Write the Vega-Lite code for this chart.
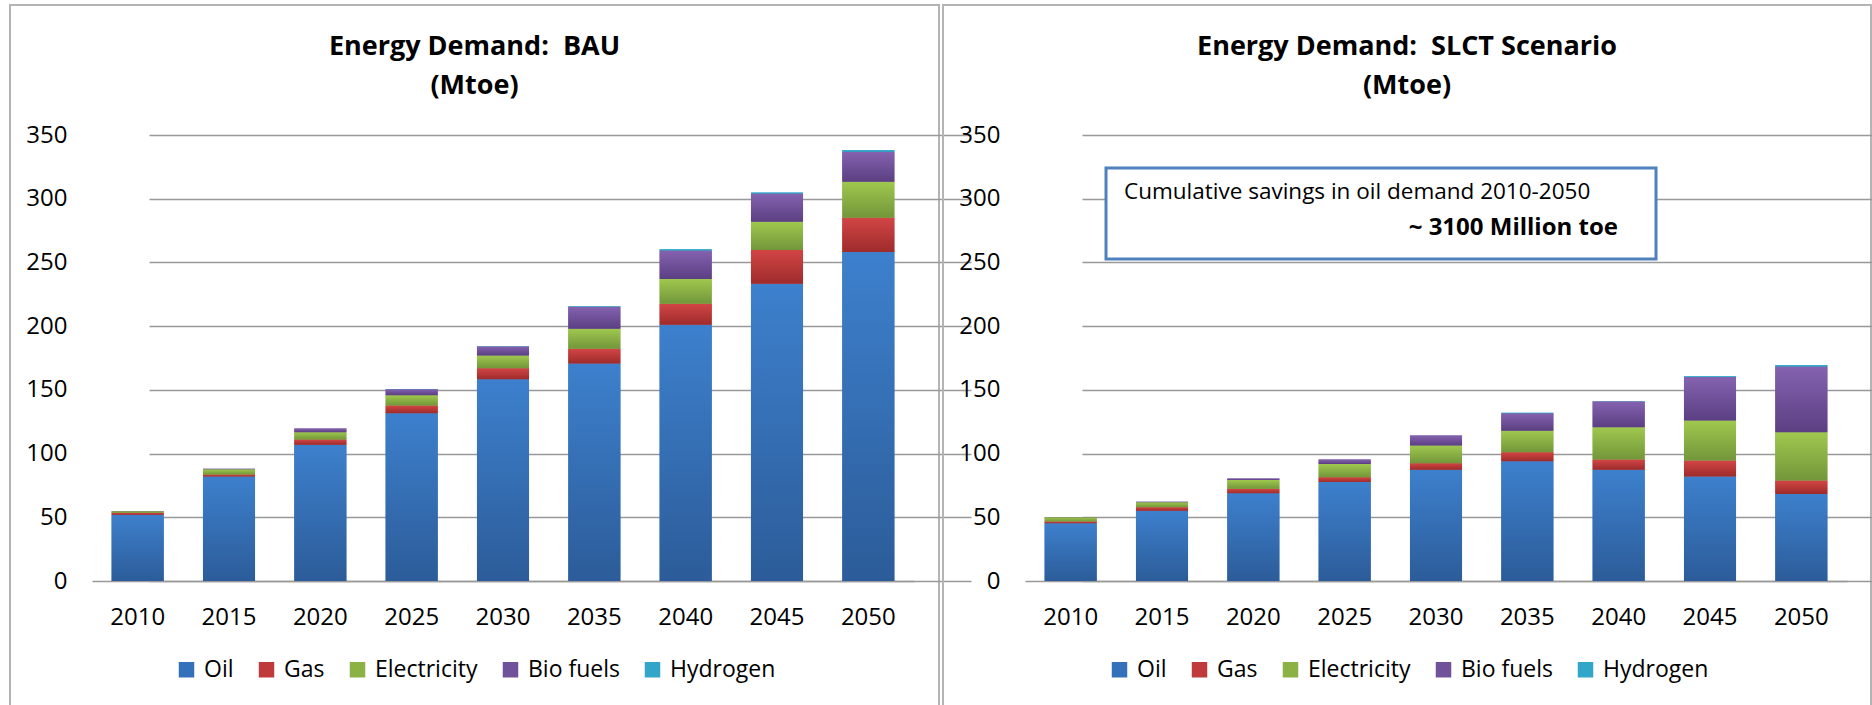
{
  "$schema": "https://vega.github.io/schema/vega-lite/v6.json",
  "padding": {"left": 9, "top": 4, "right": 0, "bottom": 0},
  "autosize": {"type": "pad"},
  "spacing": 4,
  "bounds": "flush",
  "background": "white",
  "datasets": {
    "energy": [
      {"scenario": "BAU", "year": "2010", "fuel": "Oil", "i": 1, "value": 52},
      {"scenario": "BAU", "year": "2010", "fuel": "Gas", "i": 2, "value": 1.5},
      {"scenario": "BAU", "year": "2010", "fuel": "Electricity", "i": 3, "value": 1.3},
      {"scenario": "BAU", "year": "2010", "fuel": "Bio fuels", "i": 4, "value": 0.2},
      {"scenario": "BAU", "year": "2010", "fuel": "Hydrogen", "i": 5, "value": 0},
      {"scenario": "BAU", "year": "2015", "fuel": "Oil", "i": 1, "value": 82},
      {"scenario": "BAU", "year": "2015", "fuel": "Gas", "i": 2, "value": 1.5},
      {"scenario": "BAU", "year": "2015", "fuel": "Electricity", "i": 3, "value": 4.2},
      {"scenario": "BAU", "year": "2015", "fuel": "Bio fuels", "i": 4, "value": 0.3},
      {"scenario": "BAU", "year": "2015", "fuel": "Hydrogen", "i": 5, "value": 0},
      {"scenario": "BAU", "year": "2020", "fuel": "Oil", "i": 1, "value": 107},
      {"scenario": "BAU", "year": "2020", "fuel": "Gas", "i": 2, "value": 4},
      {"scenario": "BAU", "year": "2020", "fuel": "Electricity", "i": 3, "value": 5.8},
      {"scenario": "BAU", "year": "2020", "fuel": "Bio fuels", "i": 4, "value": 2.8},
      {"scenario": "BAU", "year": "2020", "fuel": "Hydrogen", "i": 5, "value": 0.1},
      {"scenario": "BAU", "year": "2025", "fuel": "Oil", "i": 1, "value": 131.7},
      {"scenario": "BAU", "year": "2025", "fuel": "Gas", "i": 2, "value": 6},
      {"scenario": "BAU", "year": "2025", "fuel": "Electricity", "i": 3, "value": 8.1},
      {"scenario": "BAU", "year": "2025", "fuel": "Bio fuels", "i": 4, "value": 4.7},
      {"scenario": "BAU", "year": "2025", "fuel": "Hydrogen", "i": 5, "value": 0.1},
      {"scenario": "BAU", "year": "2030", "fuel": "Oil", "i": 1, "value": 158.4},
      {"scenario": "BAU", "year": "2030", "fuel": "Gas", "i": 2, "value": 8.6},
      {"scenario": "BAU", "year": "2030", "fuel": "Electricity", "i": 3, "value": 10},
      {"scenario": "BAU", "year": "2030", "fuel": "Bio fuels", "i": 4, "value": 7},
      {"scenario": "BAU", "year": "2030", "fuel": "Hydrogen", "i": 5, "value": 0.2},
      {"scenario": "BAU", "year": "2035", "fuel": "Oil", "i": 1, "value": 170.7},
      {"scenario": "BAU", "year": "2035", "fuel": "Gas", "i": 2, "value": 11.5},
      {"scenario": "BAU", "year": "2035", "fuel": "Electricity", "i": 3, "value": 15.7},
      {"scenario": "BAU", "year": "2035", "fuel": "Bio fuels", "i": 4, "value": 17.3},
      {"scenario": "BAU", "year": "2035", "fuel": "Hydrogen", "i": 5, "value": 0.5},
      {"scenario": "BAU", "year": "2040", "fuel": "Oil", "i": 1, "value": 201},
      {"scenario": "BAU", "year": "2040", "fuel": "Gas", "i": 2, "value": 16.5},
      {"scenario": "BAU", "year": "2040", "fuel": "Electricity", "i": 3, "value": 19.4},
      {"scenario": "BAU", "year": "2040", "fuel": "Bio fuels", "i": 4, "value": 22.5},
      {"scenario": "BAU", "year": "2040", "fuel": "Hydrogen", "i": 5, "value": 1},
      {"scenario": "BAU", "year": "2045", "fuel": "Oil", "i": 1, "value": 233.2},
      {"scenario": "BAU", "year": "2045", "fuel": "Gas", "i": 2, "value": 26.5},
      {"scenario": "BAU", "year": "2045", "fuel": "Electricity", "i": 3, "value": 22.3},
      {"scenario": "BAU", "year": "2045", "fuel": "Bio fuels", "i": 4, "value": 22},
      {"scenario": "BAU", "year": "2045", "fuel": "Hydrogen", "i": 5, "value": 0.8},
      {"scenario": "BAU", "year": "2050", "fuel": "Oil", "i": 1, "value": 258.2},
      {"scenario": "BAU", "year": "2050", "fuel": "Gas", "i": 2, "value": 26.8},
      {"scenario": "BAU", "year": "2050", "fuel": "Electricity", "i": 3, "value": 28.4},
      {"scenario": "BAU", "year": "2050", "fuel": "Bio fuels", "i": 4, "value": 23.5},
      {"scenario": "BAU", "year": "2050", "fuel": "Hydrogen", "i": 5, "value": 1.3},
      {"scenario": "SLCT", "year": "2010", "fuel": "Oil", "i": 1, "value": 45.3},
      {"scenario": "SLCT", "year": "2010", "fuel": "Gas", "i": 2, "value": 1.3},
      {"scenario": "SLCT", "year": "2010", "fuel": "Electricity", "i": 3, "value": 3.4},
      {"scenario": "SLCT", "year": "2010", "fuel": "Bio fuels", "i": 4, "value": 0.2},
      {"scenario": "SLCT", "year": "2010", "fuel": "Hydrogen", "i": 5, "value": 0},
      {"scenario": "SLCT", "year": "2015", "fuel": "Oil", "i": 1, "value": 55.2},
      {"scenario": "SLCT", "year": "2015", "fuel": "Gas", "i": 2, "value": 2.7},
      {"scenario": "SLCT", "year": "2015", "fuel": "Electricity", "i": 3, "value": 3.9},
      {"scenario": "SLCT", "year": "2015", "fuel": "Bio fuels", "i": 4, "value": 0.3},
      {"scenario": "SLCT", "year": "2015", "fuel": "Hydrogen", "i": 5, "value": 0},
      {"scenario": "SLCT", "year": "2020", "fuel": "Oil", "i": 1, "value": 68.8},
      {"scenario": "SLCT", "year": "2020", "fuel": "Gas", "i": 2, "value": 3.5},
      {"scenario": "SLCT", "year": "2020", "fuel": "Electricity", "i": 3, "value": 7},
      {"scenario": "SLCT", "year": "2020", "fuel": "Bio fuels", "i": 4, "value": 1.1},
      {"scenario": "SLCT", "year": "2020", "fuel": "Hydrogen", "i": 5, "value": 0},
      {"scenario": "SLCT", "year": "2025", "fuel": "Oil", "i": 1, "value": 77.7},
      {"scenario": "SLCT", "year": "2025", "fuel": "Gas", "i": 2, "value": 3.7},
      {"scenario": "SLCT", "year": "2025", "fuel": "Electricity", "i": 3, "value": 10.5},
      {"scenario": "SLCT", "year": "2025", "fuel": "Bio fuels", "i": 4, "value": 3.4},
      {"scenario": "SLCT", "year": "2025", "fuel": "Hydrogen", "i": 5, "value": 0},
      {"scenario": "SLCT", "year": "2030", "fuel": "Oil", "i": 1, "value": 87.4},
      {"scenario": "SLCT", "year": "2030", "fuel": "Gas", "i": 2, "value": 5},
      {"scenario": "SLCT", "year": "2030", "fuel": "Electricity", "i": 3, "value": 13.9},
      {"scenario": "SLCT", "year": "2030", "fuel": "Bio fuels", "i": 4, "value": 7.8},
      {"scenario": "SLCT", "year": "2030", "fuel": "Hydrogen", "i": 5, "value": 0.1},
      {"scenario": "SLCT", "year": "2035", "fuel": "Oil", "i": 1, "value": 94},
      {"scenario": "SLCT", "year": "2035", "fuel": "Gas", "i": 2, "value": 7},
      {"scenario": "SLCT", "year": "2035", "fuel": "Electricity", "i": 3, "value": 17},
      {"scenario": "SLCT", "year": "2035", "fuel": "Bio fuels", "i": 4, "value": 13.7},
      {"scenario": "SLCT", "year": "2035", "fuel": "Hydrogen", "i": 5, "value": 0.3},
      {"scenario": "SLCT", "year": "2040", "fuel": "Oil", "i": 1, "value": 87.4},
      {"scenario": "SLCT", "year": "2040", "fuel": "Gas", "i": 2, "value": 7.9},
      {"scenario": "SLCT", "year": "2040", "fuel": "Electricity", "i": 3, "value": 25.4},
      {"scenario": "SLCT", "year": "2040", "fuel": "Bio fuels", "i": 4, "value": 20.1},
      {"scenario": "SLCT", "year": "2040", "fuel": "Hydrogen", "i": 5, "value": 0.3},
      {"scenario": "SLCT", "year": "2045", "fuel": "Oil", "i": 1, "value": 82},
      {"scenario": "SLCT", "year": "2045", "fuel": "Gas", "i": 2, "value": 12.5},
      {"scenario": "SLCT", "year": "2045", "fuel": "Electricity", "i": 3, "value": 31.5},
      {"scenario": "SLCT", "year": "2045", "fuel": "Bio fuels", "i": 4, "value": 34},
      {"scenario": "SLCT", "year": "2045", "fuel": "Hydrogen", "i": 5, "value": 0.7},
      {"scenario": "SLCT", "year": "2050", "fuel": "Oil", "i": 1, "value": 68.3},
      {"scenario": "SLCT", "year": "2050", "fuel": "Gas", "i": 2, "value": 10.5},
      {"scenario": "SLCT", "year": "2050", "fuel": "Electricity", "i": 3, "value": 38},
      {"scenario": "SLCT", "year": "2050", "fuel": "Bio fuels", "i": 4, "value": 51.5},
      {"scenario": "SLCT", "year": "2050", "fuel": "Hydrogen", "i": 5, "value": 1.3}
    ]
  },
  "hconcat": [
    {
      "width": 929,
      "height": 701,
      "title": {"text": ["Energy Demand:\u00a0 BAU", "(Mtoe)"]},
      "data": {"name": "energy"},
      "transform": [{"filter": "datum.scenario === 'BAU'"}],
      "encoding": {
        "x": {"field": "year", "type": "ordinal", "title": null,
              "scale": {"range": [82, 904], "paddingInner": 0.43, "paddingOuter": 0.215}},
        "y": {"field": "value", "type": "quantitative", "stack": "zero", "title": null,
              "scale": {"domain": [0, 350], "range": [576, 130], "nice": false, "zero": true},
              "axis": {"values": [0, 50, 100, 150, 200, 250, 300, 350]}},
        "order": {"field": "i", "type": "quantitative"}
      },
      "layer": [
        {
          "mark": {"type": "bar"},
          "encoding": {
            "color": {"field": "fuel", "type": "nominal",
                      "scale": {"domain": ["Oil", "Gas", "Electricity", "Bio fuels", "Hydrogen"],
                                "range": ["#3570bb", "#bf3a3a", "#8cb246", "#70529b", "#31a6c9"]},
                      "legend": {"orient": "none", "legendX": 165, "legendY": 653, "direction": "horizontal"}}
          }
        },
        {
          "mark": {"type": "bar"},
          "encoding": {
            "detail": {"field": "fuel", "type": "nominal"},
            "fill": {
              "condition": [
                {"test": "datum.fuel === 'Oil'", "value": {"gradient": "linear", "x1": 0, "y1": 0, "x2": 0, "y2": 1, "stops": [{"offset": 0, "color": "#3d80cd"}, {"offset": 1, "color": "#2c5c99"}]}},
                {"test": "datum.fuel === 'Gas'", "value": {"gradient": "linear", "x1": 0, "y1": 0, "x2": 0, "y2": 1, "stops": [{"offset": 0, "color": "#d24545"}, {"offset": 1, "color": "#9e2b2b"}]}},
                {"test": "datum.fuel === 'Electricity'", "value": {"gradient": "linear", "x1": 0, "y1": 0, "x2": 0, "y2": 1, "stops": [{"offset": 0, "color": "#9fc84e"}, {"offset": 1, "color": "#72963a"}]}},
                {"test": "datum.fuel === 'Bio fuels'", "value": {"gradient": "linear", "x1": 0, "y1": 0, "x2": 0, "y2": 1, "stops": [{"offset": 0, "color": "#8462b0"}, {"offset": 1, "color": "#5b3f82"}]}}
              ],
              "value": {"gradient": "linear", "x1": 0, "y1": 0, "x2": 0, "y2": 1, "stops": [{"offset": 0, "color": "#3cb4d6"}, {"offset": 1, "color": "#2596b8"}]}
            }
          }
        }
      ]
    },
    {
      "width": 928,
      "height": 701,
      "title": {"text": ["Energy Demand:\u00a0 SLCT Scenario", "(Mtoe)"]},
      "resolve": {"scale": {"x": "independent"}},
      "layer": [
        {
          "data": {"name": "energy"},
          "transform": [{"filter": "datum.scenario === 'SLCT'"}],
          "encoding": {
            "x": {"field": "year", "type": "ordinal", "title": null,
                  "scale": {"range": [82, 904], "paddingInner": 0.43, "paddingOuter": 0.215}},
            "y": {"field": "value", "type": "quantitative", "stack": "zero", "title": null,
                  "scale": {"domain": [0, 350], "range": [576, 130], "nice": false, "zero": true},
                  "axis": {"values": [0, 50, 100, 150, 200, 250, 300, 350]}},
            "order": {"field": "i", "type": "quantitative"}
          },
          "layer": [
            {
              "mark": {"type": "bar"},
              "encoding": {
                "color": {"field": "fuel", "type": "nominal",
                          "scale": {"domain": ["Oil", "Gas", "Electricity", "Bio fuels", "Hydrogen"],
                                    "range": ["#3570bb", "#bf3a3a", "#8cb246", "#70529b", "#31a6c9"]},
                          "legend": {"orient": "none", "legendX": 165, "legendY": 653, "direction": "horizontal"}}
              }
            },
            {
              "mark": {"type": "bar"},
              "encoding": {
                "detail": {"field": "fuel", "type": "nominal"},
                "fill": {
                  "condition": [
                    {"test": "datum.fuel === 'Oil'", "value": {"gradient": "linear", "x1": 0, "y1": 0, "x2": 0, "y2": 1, "stops": [{"offset": 0, "color": "#3d80cd"}, {"offset": 1, "color": "#2c5c99"}]}},
                    {"test": "datum.fuel === 'Gas'", "value": {"gradient": "linear", "x1": 0, "y1": 0, "x2": 0, "y2": 1, "stops": [{"offset": 0, "color": "#d24545"}, {"offset": 1, "color": "#9e2b2b"}]}},
                    {"test": "datum.fuel === 'Electricity'", "value": {"gradient": "linear", "x1": 0, "y1": 0, "x2": 0, "y2": 1, "stops": [{"offset": 0, "color": "#9fc84e"}, {"offset": 1, "color": "#72963a"}]}},
                    {"test": "datum.fuel === 'Bio fuels'", "value": {"gradient": "linear", "x1": 0, "y1": 0, "x2": 0, "y2": 1, "stops": [{"offset": 0, "color": "#8462b0"}, {"offset": 1, "color": "#5b3f82"}]}}
                  ],
                  "value": {"gradient": "linear", "x1": 0, "y1": 0, "x2": 0, "y2": 1, "stops": [{"offset": 0, "color": "#3cb4d6"}, {"offset": 1, "color": "#2596b8"}]}
                }
              }
            }
          ]
        },
        {
          "data": {"values": [{}]},
          "mark": {"type": "rect", "fill": "white", "stroke": "#4f81bd", "strokeWidth": 3},
          "encoding": {
            "x": {"datum": 0.887, "type": "quantitative", "axis": null,
                  "scale": {"domain": [0, 9], "range": [82, 904], "nice": false, "zero": false}},
            "x2": {"datum": 6.909},
            "y": {"datum": 324.1, "type": "quantitative"},
            "y2": {"datum": 252.7}
          }
        },
        {
          "data": {"values": [{}]},
          "mark": {"type": "text", "text": "Cumulative savings in oil demand 2010-2050", "align": "left", "baseline": "middle",
                   "font": "Open Sans", "fontSize": 22.5, "color": "black"},
          "encoding": {
            "x": {"datum": 1.084, "type": "quantitative", "axis": null,
                  "scale": {"domain": [0, 9], "range": [82, 904], "nice": false, "zero": false}},
            "y": {"datum": 305.3, "type": "quantitative"}
          }
        },
        {
          "data": {"values": [{}]},
          "mark": {"type": "text", "text": "~ 3100 Million toe", "align": "right", "baseline": "middle",
                   "font": "Open Sans", "fontSize": 24, "fontWeight": "bold", "color": "black"},
          "encoding": {
            "x": {"datum": 6.493, "type": "quantitative", "axis": null,
                  "scale": {"domain": [0, 9], "range": [82, 904], "nice": false, "zero": false}},
            "y": {"datum": 277.0, "type": "quantitative"}
          }
        }
      ]
    }
  ],
  "resolve": {"scale": {"color": "independent"}, "legend": {"color": "independent"}},
  "config": {
    "font": "Open Sans",
    "view": {"stroke": "#b4b4b4", "strokeWidth": 2},
    "title": {"anchor": "middle", "frame": "group", "offset": -95, "baseline": "top",
              "fontSize": 27, "font": "Open Sans", "fontWeight": "bold", "lineHeight": 39, "color": "black"},
    "axisX": {"offset": -125, "labelAngle": 0, "ticks": false, "tickSize": 0, "domainColor": "#999999", "domainWidth": 1.5,
              "labelFont": "Open Sans", "labelFontSize": 24, "labelColor": "black", "labelPadding": 24, "grid": false},
    "axisY": {"offset": -57, "ticks": false, "tickSize": 0, "domain": false, "labelPadding": 0,
              "labelFont": "Open Sans", "labelFontSize": 24, "labelColor": "black",
              "grid": true, "gridColor": "#999999", "gridWidth": 1.5},
    "legend": {"title": null, "symbolType": "square", "symbolSize": 240, "symbolStrokeWidth": 0,
               "labelFont": "Open Sans", "labelFontSize": 23, "labelColor": "black", "labelOffset": 6,
               "columnPadding": 21, "padding": 0},
    "bar": {"stroke": null}
  }
}
